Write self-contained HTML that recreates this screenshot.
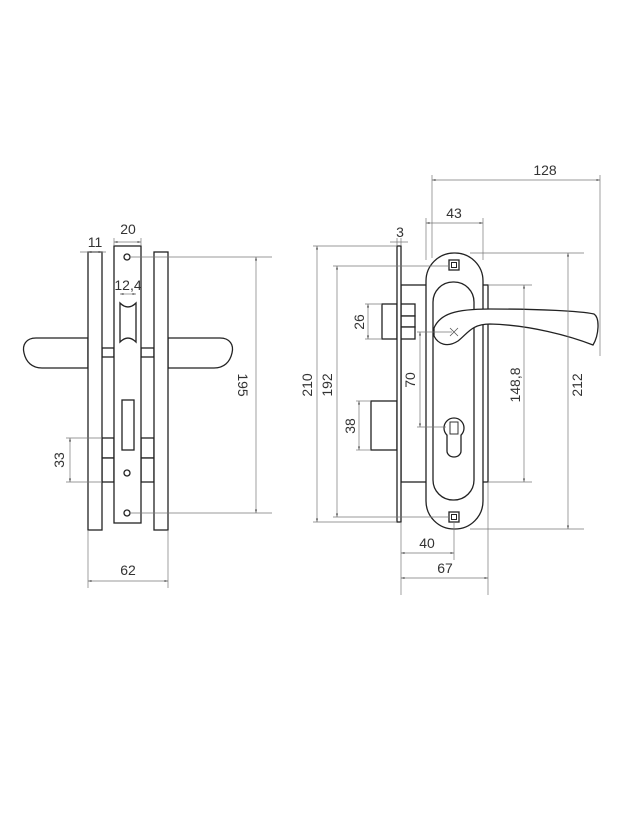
<!DOCTYPE html>
<html><head><meta charset="utf-8"><style>
html,body{margin:0;padding:0;background:#fff;}
svg{display:block;}
text{font-family:"Liberation Sans",sans-serif;font-size:14px;fill:#333;}
.o{fill:#fff;stroke:#222;stroke-width:1.3;}
.d{stroke:#777;stroke-width:0.7;fill:none;}
</style></head><body>
<svg width="624" height="832" viewBox="0 0 624 832" xmlns="http://www.w3.org/2000/svg">
<defs><marker id="a" viewBox="0 0 10 10" refX="10" refY="5" markerWidth="5" markerHeight="5" orient="auto-start-reverse"><path d="M0,2 L10,5 L0,8 z" fill="#555"/></marker></defs>

<!-- LEFT VIEW -->
<path class="o" d="M88,338 L36,338 C26,338 22,345 24,353 C26,362 32,368 42,368 L88,368 Z"/>
<path class="o" d="M168,338 L220,338 C230,338 234,345 232,353 C230,362 224,368 214,368 L168,368 Z"/>
<rect class="o" x="102" y="348" width="12" height="9"/>
<rect class="o" x="141" y="348" width="13" height="9"/>
<rect class="o" x="102" y="438" width="12" height="20"/>
<rect class="o" x="102" y="458" width="12" height="24"/>
<rect class="o" x="141" y="438" width="13" height="20"/>
<rect class="o" x="141" y="458" width="13" height="24"/>
<rect class="o" x="88" y="252" width="14" height="278"/>
<rect class="o" x="154" y="252" width="14" height="278"/>
<rect class="o" x="114" y="246" width="27" height="277"/>
<path class="o" d="M120,303 Q128,311 136,303 L136,342 Q128,334 120,342 Z"/>
<rect class="o" x="122" y="400" width="12" height="50"/>
<circle cx="127" cy="257" r="3" class="o" stroke-width="2.2"/>
<circle cx="127" cy="473" r="3" class="o" stroke-width="2.2"/>
<circle cx="127" cy="513" r="3" class="o" stroke-width="2.2"/>

<line class="d" x1="80" y1="252" x2="106" y2="252" />
<line class="d" x1="88" y1="252" x2="102" y2="252" marker-start="url(#a)" marker-end="url(#a)"/>
<text x="95" y="247" text-anchor="middle">11</text>
<line class="d" x1="114" y1="242" x2="141" y2="242" marker-start="url(#a)" marker-end="url(#a)"/>
<line class="d" x1="114" y1="238" x2="114" y2="246"/><line class="d" x1="141" y1="238" x2="141" y2="246"/>
<text x="128" y="234" text-anchor="middle">20</text>
<line class="d" x1="120" y1="294" x2="136" y2="294" marker-start="url(#a)" marker-end="url(#a)"/>
<text x="128" y="290" text-anchor="middle">12,4</text>
<line class="d" x1="130" y1="257" x2="272" y2="257"/>
<line class="d" x1="130" y1="513" x2="272" y2="513"/>
<line class="d" x1="256" y1="257" x2="256" y2="513" marker-start="url(#a)" marker-end="url(#a)"/>
<text transform="translate(238,385) rotate(90)" text-anchor="middle">195</text>
<line class="d" x1="66" y1="438" x2="102" y2="438"/>
<line class="d" x1="66" y1="482" x2="102" y2="482"/>
<line class="d" x1="70" y1="438" x2="70" y2="482" marker-start="url(#a)" marker-end="url(#a)"/>
<text transform="translate(64,460) rotate(-90)" text-anchor="middle">33</text>
<line class="d" x1="88" y1="530" x2="88" y2="588"/><line class="d" x1="168" y1="530" x2="168" y2="588"/>
<line class="d" x1="88" y1="581" x2="168" y2="581" marker-start="url(#a)" marker-end="url(#a)"/>
<text x="128" y="575" text-anchor="middle">62</text>

<!-- RIGHT VIEW -->
<rect class="o" x="401" y="285" width="87" height="197"/>
<rect class="o" x="382" y="304" width="15" height="35"/>
<rect class="o" x="401" y="304" width="14" height="12"/>
<rect class="o" x="401" y="316" width="14" height="11"/>
<rect class="o" x="401" y="327" width="14" height="12"/>
<rect class="o" x="371" y="401" width="26" height="49"/>
<rect class="o" x="397" y="246" width="4" height="276"/>
<rect class="o" x="426" y="253" width="57" height="276" rx="28" ry="28"/>
<rect class="o" x="433" y="282" width="41" height="218" rx="20" ry="20"/>
<rect x="449" y="260" width="10" height="10" class="o" stroke-width="2"/>
<rect x="451.5" y="262.5" width="5" height="5" fill="none" stroke="#222"/>
<rect x="449" y="512" width="10" height="10" class="o" stroke-width="2"/>
<rect x="451.5" y="514.5" width="5" height="5" fill="none" stroke="#222"/>
<circle class="o" cx="454" cy="428" r="10"/>
<path class="o" d="M447,435 L447,451 A7,6 0 0 0 461,451 L461,435"/>
<rect x="450" y="422" width="8" height="12" fill="none" stroke="#333"/>
<path class="o" d="M434,328 C440,314 455,309 490,309 C540,309 580,311 594,314 C600,318 599,335 593,345 C570,336 530,325 490,324 C472,324 468,333 458,341 C447,348 438,344 434,336 Z"/>
<path d="M450,328 L458,336 M458,328 L450,336" stroke="#555" stroke-width="0.8"/>

<line class="d" x1="432" y1="175" x2="432" y2="258"/>
<line class="d" x1="600" y1="175" x2="600" y2="356"/>
<line class="d" x1="432" y1="180" x2="600" y2="180" marker-start="url(#a)" marker-end="url(#a)"/>
<text x="545" y="175" text-anchor="middle">128</text>
<line class="d" x1="426" y1="218" x2="426" y2="260"/>
<line class="d" x1="483" y1="218" x2="483" y2="260"/>
<line class="d" x1="426" y1="223" x2="483" y2="223" marker-start="url(#a)" marker-end="url(#a)"/>
<text x="454" y="218" text-anchor="middle">43</text>
<line class="d" x1="397" y1="238" x2="397" y2="246"/><line class="d" x1="401" y1="238" x2="401" y2="246"/>
<line class="d" x1="390" y1="242" x2="408" y2="242"/>
<text x="400" y="237" text-anchor="middle">3</text>
<line class="d" x1="313" y1="246" x2="397" y2="246"/>
<line class="d" x1="313" y1="522" x2="397" y2="522"/>
<line class="d" x1="317" y1="246" x2="317" y2="522" marker-start="url(#a)" marker-end="url(#a)"/>
<text transform="translate(312,385) rotate(-90)" text-anchor="middle">210</text>
<line class="d" x1="333" y1="266" x2="450" y2="266"/>
<line class="d" x1="333" y1="517" x2="450" y2="517"/>
<line class="d" x1="337" y1="266" x2="337" y2="517" marker-start="url(#a)" marker-end="url(#a)"/>
<text transform="translate(332,385) rotate(-90)" text-anchor="middle">192</text>
<line class="d" x1="365" y1="304" x2="382" y2="304"/><line class="d" x1="365" y1="339" x2="382" y2="339"/>
<line class="d" x1="368" y1="304" x2="368" y2="339" marker-start="url(#a)" marker-end="url(#a)"/>
<text transform="translate(364,322) rotate(-90)" text-anchor="middle">26</text>
<line class="d" x1="356" y1="401" x2="371" y2="401"/><line class="d" x1="356" y1="450" x2="371" y2="450"/>
<line class="d" x1="359" y1="401" x2="359" y2="450" marker-start="url(#a)" marker-end="url(#a)"/>
<text transform="translate(355,426) rotate(-90)" text-anchor="middle">38</text>
<line class="d" x1="417" y1="332" x2="452" y2="332"/><line class="d" x1="417" y1="427" x2="446" y2="427"/>
<line class="d" x1="420" y1="332" x2="420" y2="427" marker-start="url(#a)" marker-end="url(#a)"/>
<text transform="translate(415,380) rotate(-90)" text-anchor="middle">70</text>
<line class="d" x1="488" y1="285" x2="532" y2="285"/><line class="d" x1="488" y1="482" x2="532" y2="482"/>
<line class="d" x1="524" y1="285" x2="524" y2="482" marker-start="url(#a)" marker-end="url(#a)"/>
<text transform="translate(520,385) rotate(-90)" text-anchor="middle">148,8</text>
<line class="d" x1="470" y1="253" x2="584" y2="253"/><line class="d" x1="470" y1="529" x2="584" y2="529"/>
<line class="d" x1="568" y1="253" x2="568" y2="529" marker-start="url(#a)" marker-end="url(#a)"/>
<text transform="translate(582,385) rotate(-90)" text-anchor="middle">212</text>
<line class="d" x1="401" y1="522" x2="401" y2="595"/>
<line class="d" x1="454" y1="522" x2="454" y2="560"/>
<line class="d" x1="488" y1="482" x2="488" y2="595"/>
<line class="d" x1="401" y1="553" x2="454" y2="553" marker-start="url(#a)" marker-end="url(#a)"/>
<text x="427" y="548" text-anchor="middle">40</text>
<line class="d" x1="401" y1="578" x2="488" y2="578" marker-start="url(#a)" marker-end="url(#a)"/>
<text x="445" y="573" text-anchor="middle">67</text>
</svg>
</body></html>
